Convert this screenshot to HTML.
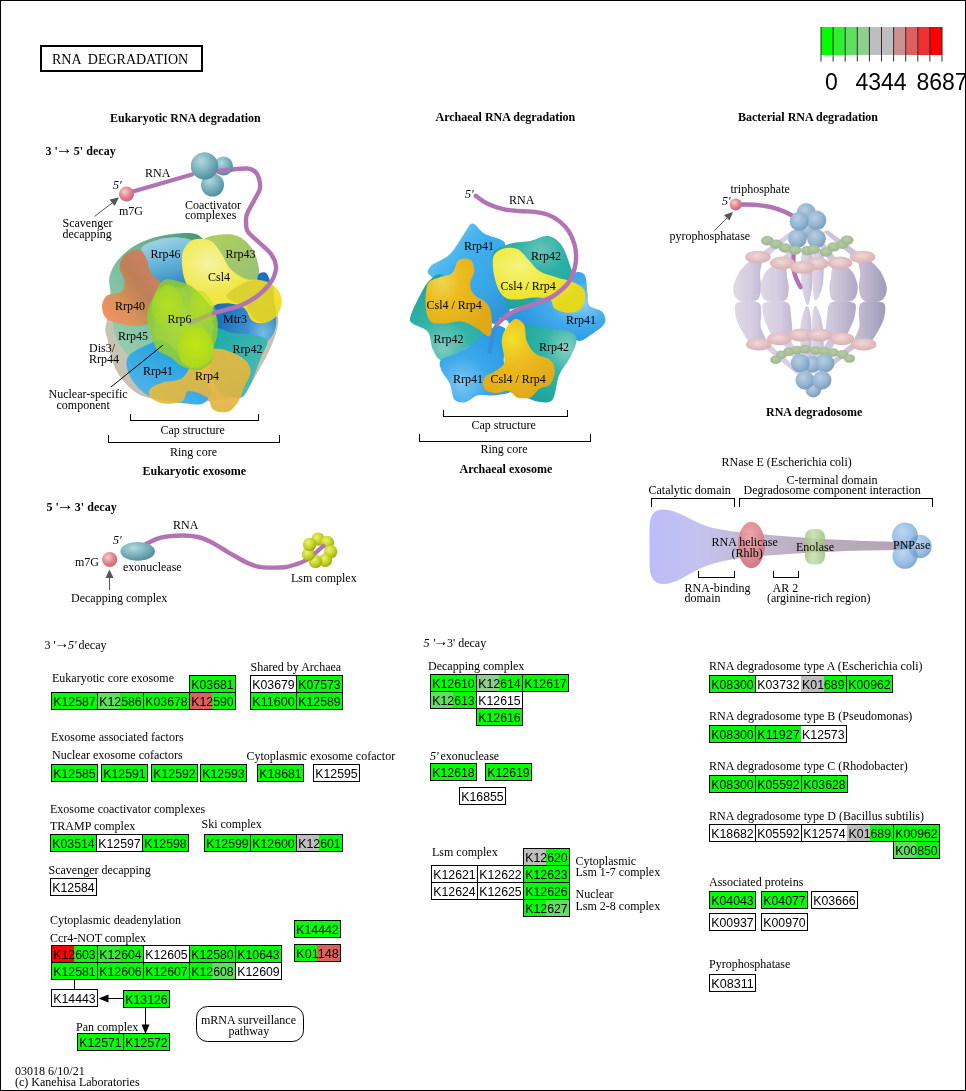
<!DOCTYPE html>
<html lang="en">
<head>
<meta charset="utf-8">
<title>RNA degradation</title>
<style>
html,body{margin:0;padding:0;background:#fff;}
body{width:966px;height:1091px;overflow:hidden;}
svg{display:block;}
text{font-family:"Liberation Serif",serif;font-size:12px;fill:#000;}
.b{font-weight:bold;}
.i{font-style:italic;}
.t{font-size:14px;}
.k{font-family:"Liberation Sans",sans-serif;font-size:13px;text-anchor:middle;}
.lg{font-family:"Liberation Sans",sans-serif;font-size:23px;}
.bx{fill:none;stroke:#000;stroke-width:1;shape-rendering:crispEdges;}
.ln{fill:none;stroke:#000;stroke-width:1;shape-rendering:crispEdges;}
.rna{fill:none;stroke:#b273b4;stroke-width:4.4;stroke-linecap:round;stroke-linejoin:round;}
</style>
</head>
<body>
<svg width="966" height="1091" viewBox="0 0 966 1091">
<defs>
<radialGradient id="gPink" cx="38%" cy="35%" r="70%"><stop offset="0" stop-color="#f6cfd0"/><stop offset=".55" stop-color="#e08890"/><stop offset="1" stop-color="#c8606c"/></radialGradient>
<radialGradient id="gTeal" cx="38%" cy="32%" r="72%"><stop offset="0" stop-color="#b4d8de"/><stop offset=".55" stop-color="#78b0bc"/><stop offset="1" stop-color="#4c8c9c"/></radialGradient>
<radialGradient id="gBlue" cx="40%" cy="35%" r="70%"><stop offset="0" stop-color="#b8cee2"/><stop offset=".6" stop-color="#94b4d0"/><stop offset="1" stop-color="#7698b8"/></radialGradient>
<radialGradient id="gPNP" cx="40%" cy="35%" r="70%"><stop offset="0" stop-color="#a4c8ec"/><stop offset=".6" stop-color="#78a8d8"/><stop offset="1" stop-color="#5484bc"/></radialGradient>
<radialGradient id="gYG" cx="38%" cy="35%" r="70%"><stop offset="0" stop-color="#eef270"/><stop offset=".55" stop-color="#c4d428"/><stop offset="1" stop-color="#98a810"/></radialGradient>
<radialGradient id="gPk2" cx="45%" cy="40%" r="65%"><stop offset="0" stop-color="#f0d8d8"/><stop offset="1" stop-color="#d8acb0"/></radialGradient>
<radialGradient id="gGb" cx="45%" cy="40%" r="65%"><stop offset="0" stop-color="#b8cca8"/><stop offset="1" stop-color="#9cb48e"/></radialGradient>
<linearGradient id="gLav" x1="0" x2="1" y1="0" y2="0"><stop offset="0" stop-color="#e0d8e6"/><stop offset=".6" stop-color="#d4cce0"/><stop offset="1" stop-color="#c0b8d0"/></linearGradient>
<linearGradient id="gLavM" x1="0" x2="1" y1="0" y2="0"><stop offset="0" stop-color="#d4cce0"/><stop offset=".5" stop-color="#c4bcd2"/><stop offset="1" stop-color="#b0a8c4"/></linearGradient>
<linearGradient id="gLavR" x1="0" x2="1" y1="0" y2="0"><stop offset="0" stop-color="#c8c0d6"/><stop offset=".5" stop-color="#b4aec8"/><stop offset="1" stop-color="#a09cb8"/></linearGradient>
<filter id="soft" x="-5%" y="-5%" width="110%" height="110%"><feGaussianBlur stdDeviation="0.7"/></filter>
<filter id="soft2" x="-5%" y="-5%" width="110%" height="110%"><feGaussianBlur stdDeviation="1.6"/></filter>
</defs>
<rect x="0" y="0" width="966" height="1091" fill="#fff"/>
<rect x="0.5" y="0.5" width="965" height="1090" class="bx"/>
<rect x="41" y="46" width="161" height="25" fill="#fff" stroke="#000" stroke-width="2" shape-rendering="crispEdges"/>
<text x="52" y="63.5" class="t" xml:space="preserve">RNA  DEGRADATION</text>
<rect x="821.0" y="27" width="12.2" height="28" fill="#00ff00"/>
<rect x="833.1" y="27" width="12.2" height="28" fill="#30ef30"/>
<rect x="845.2" y="27" width="12.2" height="28" fill="#5fdf5f"/>
<rect x="857.3" y="27" width="12.2" height="28" fill="#8fce8f"/>
<rect x="869.4" y="27" width="12.2" height="28" fill="#bebebe"/>
<rect x="881.5" y="27" width="12.2" height="28" fill="#bebebe"/>
<rect x="893.6" y="27" width="12.2" height="28" fill="#ce8f8f"/>
<rect x="905.7" y="27" width="12.2" height="28" fill="#df5f5f"/>
<rect x="917.8" y="27" width="12.2" height="28" fill="#ef3030"/>
<rect x="929.9" y="27" width="12.2" height="28" fill="#ff0000"/>
<rect x="820.5" y="27" width="1" height="34.5" fill="#2c2c2c"/>
<rect x="832.6" y="27" width="1" height="34.5" fill="#2c2c2c"/>
<rect x="844.7" y="27" width="1" height="34.5" fill="#2c2c2c"/>
<rect x="856.8" y="27" width="1" height="34.5" fill="#2c2c2c"/>
<rect x="868.9" y="27" width="1" height="34.5" fill="#2c2c2c"/>
<rect x="881.0" y="27" width="1" height="34.5" fill="#2c2c2c"/>
<rect x="893.1" y="27" width="1" height="34.5" fill="#2c2c2c"/>
<rect x="905.2" y="27" width="1" height="34.5" fill="#2c2c2c"/>
<rect x="917.3" y="27" width="1" height="34.5" fill="#2c2c2c"/>
<rect x="929.4" y="27" width="1" height="34.5" fill="#2c2c2c"/>
<rect x="941.5" y="27" width="1" height="34.5" fill="#2c2c2c"/>
<text x="825" y="90" class="lg">0</text>
<text x="855.5" y="90" class="lg">4344</text>
<text x="916.5" y="90" class="lg">8687</text>
<text x="110" y="121.5" class="b">Eukaryotic RNA degradation</text>
<text x="435.5" y="121" class="b">Archaeal RNA degradation</text>
<text x="738" y="121" class="b">Bacterial RNA degradation</text>
<text x="45.5" y="155" class="b">3 '</text>
<text x="55.8" y="154.3" class="b" style="font-size:17px">→</text>
<text x="73.7" y="155" class="b" textLength="42">5' decay</text>
<defs>
<radialGradient id="eGray" cx="50%" cy="50%" r="60%"><stop offset="0" stop-color="#d4d0c4"/><stop offset="1" stop-color="#c4c0b0"/></radialGradient>
<linearGradient id="eGrn" x1="0.9" x2="0.1" y1="0" y2="0.8"><stop offset="0" stop-color="#4c9874"/><stop offset=".35" stop-color="#68b090"/><stop offset="1" stop-color="#90ccac"/></linearGradient>
<linearGradient id="e46" x1="0.3" x2="0.6" y1="0" y2="1"><stop offset="0" stop-color="#a4d4e2"/><stop offset=".45" stop-color="#6cb8dc"/><stop offset="1" stop-color="#3088c0"/></linearGradient>
<linearGradient id="e40" x1="0.9" x2="0" y1="0.1" y2="0.9"><stop offset="0" stop-color="#d48060"/><stop offset=".4" stop-color="#bc8058"/><stop offset=".7" stop-color="#d89458"/><stop offset="1" stop-color="#f49068"/></linearGradient>
<linearGradient id="e43" x1="0" x2="1" y1="0" y2="1"><stop offset="0" stop-color="#b0d058"/><stop offset="1" stop-color="#98c078"/></linearGradient>
<radialGradient id="eMtr" cx="80%" cy="78%" r="70%"><stop offset="0" stop-color="#78bce4"/><stop offset=".35" stop-color="#3c90d0"/><stop offset="1" stop-color="#1c70bc"/></radialGradient>
<linearGradient id="e42" x1="0" x2="1" y1="0" y2="1"><stop offset="0" stop-color="#18a8a8"/><stop offset="1" stop-color="#58c0b8"/></linearGradient>
<radialGradient id="eCsl" cx="28%" cy="28%" r="80%"><stop offset="0" stop-color="#f6f4a0"/><stop offset=".45" stop-color="#f0e84c"/><stop offset="1" stop-color="#f0e030"/></radialGradient>
<linearGradient id="e41" x1="0.8" x2="0.1" y1="0" y2="1"><stop offset="0" stop-color="#189ce0"/><stop offset="1" stop-color="#58b8e8"/></linearGradient>
<linearGradient id="eR4" x1="0" x2="1" y1="0" y2="1"><stop offset="0" stop-color="#f0c038"/><stop offset="1" stop-color="#e0b040"/></linearGradient>
<radialGradient id="eR6" cx="50%" cy="50%" r="60%"><stop offset="0" stop-color="#a8dc28"/><stop offset="1" stop-color="#84c838"/></radialGradient>
<radialGradient id="eR6b" cx="50%" cy="45%" r="60%"><stop offset="0" stop-color="#c8e810"/><stop offset="1" stop-color="#a8d820"/></radialGradient>
</defs>
<g filter="url(#soft)">
<path d="M106.6,322.3C103.6,333.0 106.7,333.9 107.8,340.9C109.0,348.0 110.7,357.7 113.6,364.8C116.6,371.8 120.5,378.0 125.6,383.4C130.8,388.7 136.0,393.9 144.7,396.8C153.4,399.8 165.4,400.5 177.8,401.0C190.2,401.5 208.0,401.8 219.2,399.9C230.4,398.1 238.5,394.6 245.1,389.6C251.7,384.6 254.8,376.7 259.0,369.9C263.1,363.2 266.9,356.1 269.9,349.2C273.0,342.3 276.1,334.7 277.2,328.5C278.3,322.3 279.5,320.6 276.8,312.0C274.0,303.3 274.7,285.4 260.6,276.8C246.6,268.1 214.7,260.2 192.3,260.2C169.9,260.2 140.3,266.4 126.1,276.8C111.8,287.1 109.6,311.6 106.6,322.3Z" fill="url(#eGray)"/>
<path d="M110.5,293.3C110.0,285.7 108.3,282.3 109.5,276.8C110.7,271.2 113.3,265.5 117.8,260.2C122.3,254.8 128.8,248.8 136.4,244.7C144.0,240.5 153.3,237.1 163.3,235.4C173.3,233.6 189.9,231.6 196.4,234.3C203.0,237.1 208.5,243.1 202.7,251.9C196.8,260.7 169.2,275.0 161.3,287.1C153.3,299.2 156.4,314.0 155.0,324.4C153.7,334.7 156.8,343.7 153.0,349.2C149.2,354.7 138.1,358.9 132.3,357.5C126.4,356.1 121.1,346.8 117.8,340.9C114.5,335.1 113.8,330.2 112.6,322.3C111.4,314.4 111.0,300.9 110.5,293.3Z" fill="url(#eGrn)"/>
<path d="M141.6,247.8C143.4,244.4 151.1,241.6 157.1,239.9C163.2,238.2 171.8,237.1 177.8,237.4C183.9,237.7 191.6,238.8 193.3,241.6C195.1,244.3 189.5,249.5 188.2,254.0C186.8,258.5 185.2,263.3 185.1,268.5C184.9,273.7 189.0,281.9 187.1,285.0C185.2,288.1 178.3,287.6 173.7,287.1C169.0,286.6 163.0,284.4 159.2,281.9C155.4,279.5 153.0,276.2 150.9,272.6C148.8,269.0 147.9,264.3 146.3,260.2C144.8,256.1 139.8,251.2 141.6,247.8Z" fill="url(#e46)"/>
<path d="M119.4,266.4C119.7,262.0 122.7,256.8 126.1,254.0C129.4,251.2 136.0,248.4 139.5,249.4C143.0,250.5 145.3,256.3 147.2,260.2C149.0,264.1 148.4,269.1 150.5,272.6C152.6,276.1 157.3,278.7 159.6,281.3C161.9,283.9 165.3,285.5 164.4,288.1C163.4,290.8 156.7,293.5 154.0,297.5C151.3,301.4 149.0,307.8 148.4,312.0C147.8,316.1 152.5,320.0 150.5,322.3C148.5,324.7 141.5,325.8 136.4,326.0C131.3,326.2 124.8,324.8 119.8,323.6C114.8,322.3 109.4,321.5 106.4,318.6C103.4,315.7 101.9,310.0 102.0,306.2C102.1,302.3 103.8,297.8 107.0,295.4C110.3,293.0 118.6,294.2 121.5,291.7C124.4,289.2 124.7,284.7 124.4,280.5C124.1,276.3 119.2,270.8 119.4,266.4Z" fill="url(#e40)"/>
<path d="M204.7,238.5C206.9,236.4 217.5,234.6 223.4,234.3C229.2,234.1 235.0,234.4 239.9,237.0C244.8,239.6 249.7,244.9 252.8,249.8C255.9,254.7 257.8,261.5 258.6,266.4C259.4,271.3 259.9,276.9 257.5,279.2C255.1,281.6 248.7,281.8 244.1,280.5C239.4,279.2 233.7,275.5 229.6,271.6C225.4,267.7 222.5,261.2 219.2,257.1C216.0,253.0 212.5,249.8 210.1,246.7C207.7,243.6 202.5,240.5 204.7,238.5Z" fill="url(#e43)"/>
<path d="M212.0,308.9C213.8,303.5 222.2,302.5 227.5,301.2C232.9,299.9 239.4,303.5 244.1,301.2C248.7,298.8 253.0,291.6 255.5,287.1C257.9,282.6 256.7,276.5 258.6,274.3C260.5,272.0 264.7,271.5 266.8,273.7C269.0,275.8 269.9,281.4 271.4,287.1C272.8,292.8 274.8,300.9 275.5,307.8C276.2,314.7 276.9,322.9 275.5,328.5C274.2,334.1 271.1,337.8 267.3,341.4C263.4,344.9 258.3,349.6 252.3,349.6C246.4,349.6 237.6,344.1 231.6,341.4C225.7,338.6 220.0,338.5 216.7,333.1C213.5,327.7 210.2,314.2 212.0,308.9Z" fill="url(#eMtr)"/>
<path d="M214.0,328.5C217.3,325.8 225.3,331.6 231.6,332.7C238.0,333.7 246.4,333.4 252.3,334.7C258.3,336.1 265.8,337.1 267.3,340.9C268.7,344.7 263.1,352.0 261.0,357.5C259.0,363.0 256.9,368.9 254.8,374.1C252.8,379.2 251.1,384.6 248.6,388.6C246.1,392.5 244.8,397.4 239.9,397.9C235.0,398.4 224.2,396.3 219.2,391.7C214.3,387.0 211.3,377.0 210.1,369.9C208.9,362.9 211.5,356.1 212.2,349.2C212.8,342.3 210.8,331.3 214.0,328.5Z" fill="url(#e42)"/>
<path d="M183.6,249.8C185.6,245.7 189.4,240.9 194.0,239.5C198.5,238.0 206.3,238.7 210.9,241.1C215.6,243.6 218.5,249.4 221.7,254.0C224.9,258.5 226.2,264.4 230.0,268.5C233.8,272.6 239.3,276.4 244.5,278.4C249.7,280.4 255.9,279.0 261.0,280.5C266.2,281.9 272.1,283.9 275.5,287.1C279.0,290.3 281.4,295.0 281.7,299.5C282.1,304.1 280.4,310.6 277.6,314.4C274.8,318.3 269.4,321.7 265.2,322.7C261.0,323.8 255.8,323.1 252.3,320.7C248.9,318.2 247.9,311.1 244.5,308.2C241.0,305.4 235.9,304.4 231.6,303.7C227.4,302.9 223.4,303.3 219.2,303.7C215.1,304.1 210.9,307.2 206.8,306.2C202.7,305.1 198.0,301.6 194.4,297.5C190.8,293.3 187.3,286.8 185.3,281.3C183.2,275.8 182.2,269.6 182.0,264.3C181.7,259.1 181.6,254.0 183.6,249.8Z" fill="url(#eCsl)"/>
<path d="M226.4,296.3C226.4,293.9 231.2,290.4 234.7,288.0C238.1,285.6 243.3,283.2 247.1,281.8C250.9,280.4 254.1,279.7 257.5,279.7C260.9,279.7 265.2,280.8 267.8,281.8C270.4,282.8 271.9,282.4 273.0,285.9C274.1,289.3 274.0,297.7 274.5,302.5C275.0,307.3 277.2,311.6 276.1,314.9C275.0,318.2 270.9,321.1 267.8,322.1C264.7,323.1 260.6,322.7 257.5,321.1C254.4,319.6 251.3,315.4 249.2,312.8C247.1,310.2 247.4,307.3 245.0,305.6C242.6,303.9 237.8,304.1 234.7,302.5C231.6,300.9 226.4,298.7 226.4,296.3Z" fill="#d0c828" opacity=".65"/>
<path d="M127.7,357.5C130.5,352.3 140.8,347.9 146.8,345.1C152.8,342.3 157.8,338.5 163.7,340.5C169.7,342.6 177.2,352.6 182.4,357.5C187.5,362.4 190.0,364.4 194.8,369.9C199.6,375.4 210.0,385.0 211.4,390.6C212.7,396.2 207.3,401.3 203.1,403.5C198.9,405.6 193.0,404.1 186.1,403.5C179.2,402.9 168.7,401.7 161.7,399.9C154.6,398.2 149.2,396.7 143.9,392.7C138.5,388.7 132.5,382.0 129.8,376.1C127.1,370.3 124.9,362.7 127.7,357.5Z" fill="url(#e41)"/>
<path d="M150.5,388.6C152.6,386.1 158.1,384.1 163.3,382.3C168.6,380.6 176.8,381.6 182.0,378.2C187.1,374.8 189.1,366.9 194.0,362.1C198.8,357.2 205.3,351.1 210.9,349.2C216.6,347.4 222.3,349.2 227.9,350.9C233.5,352.6 240.7,356.1 244.5,359.6C248.3,363.1 250.7,367.5 250.7,372.0C250.7,376.5 246.6,381.6 244.5,386.5C242.4,391.4 241.0,397.2 238.3,401.4C235.5,405.6 232.1,410.4 227.9,411.7C223.8,413.1 216.9,412.1 213.4,409.7C209.9,407.3 210.9,400.4 206.8,397.3C202.7,394.2 192.7,390.4 188.6,391.0C184.4,391.7 186.2,399.3 182.0,401.4C177.7,403.5 168.6,404.2 163.3,403.5C158.1,402.8 152.6,399.7 150.5,397.3C148.3,394.8 148.3,391.0 150.5,388.6Z" fill="url(#eR4)" opacity=".9"/>
<path d="M163.3,280.5C167.5,277.8 173.4,280.2 178.2,281.3C183.1,282.4 187.5,283.7 192.3,287.1C197.1,290.5 202.8,296.8 206.8,301.6C210.8,306.4 214.5,310.9 216.3,316.1C218.1,321.3 218.1,327.1 217.6,332.7C217.1,338.2 214.5,344.3 213.4,349.2C212.3,354.1 213.4,358.5 210.9,362.1C208.5,365.6 203.4,369.7 198.5,370.3C193.7,371.0 186.4,368.3 182.0,366.2C177.5,364.1 175.7,360.7 171.6,357.9C167.5,355.2 160.6,353.8 157.1,349.6C153.7,345.4 152.6,338.3 150.9,332.7C149.2,327.1 146.4,322.0 146.8,316.1C147.1,310.2 150.2,303.4 153.0,297.5C155.7,291.5 159.1,283.2 163.3,280.5Z" fill="url(#eR6)" opacity=".88"/>
<path d="M177.8,345.1C178.2,339.8 180.6,333.7 184.0,330.6C187.5,327.5 194.3,325.8 198.5,326.4C202.7,327.1 206.8,330.9 209.3,334.7C211.8,338.5 213.5,344.7 213.4,349.2C213.4,353.8 212.0,358.9 208.9,362.1C205.7,365.2 198.9,368.3 194.4,368.3C189.9,368.3 184.7,365.9 182.0,362.1C179.2,358.2 177.5,350.3 177.8,345.1Z" fill="url(#eR6b)" opacity=".9"/>
<path d="M192.3,293.3C194.3,290.9 199.2,289.5 202.7,291.3C206.1,293.0 210.8,299.5 213.0,303.7C215.3,307.8 217.2,313.0 216.1,316.1C215.1,319.2 210.4,322.0 206.8,322.3C203.2,322.7 197.1,320.9 194.4,318.2C191.7,315.4 191.0,309.9 190.7,305.7C190.3,301.6 190.3,295.7 192.3,293.3Z" fill="url(#eR6b)" opacity=".5"/>
<path d="M151.9,307.8C151.6,302.3 154.2,295.0 157.1,291.3C160.0,287.5 165.7,284.7 169.5,285.0C173.3,285.4 177.8,289.5 179.9,293.3C182.0,297.1 183.0,303.0 182.0,307.8C180.9,312.6 177.5,319.5 173.7,322.3C169.9,325.1 162.8,326.8 159.2,324.4C155.6,322.0 152.3,313.3 151.9,307.8Z" fill="url(#eR6b)" opacity=".55"/>
</g>
<path d="M133,191.5L192,174.5" class="rna"/>
<path d="M218.0,171.5C220.0,171.2 225.1,170.2 230.0,169.7C234.9,169.2 243.3,168.2 247.5,168.5C251.7,168.8 253.1,169.8 255.0,171.5C256.9,173.2 258.2,175.7 259.0,178.5C259.8,181.3 260.5,185.4 260.0,188.5C259.5,191.6 257.5,194.1 256.0,197.0C254.5,199.9 252.5,203.2 251.0,206.0C249.5,208.8 247.8,211.7 247.0,214.0C246.2,216.3 245.9,217.2 246.0,220.0C246.1,222.8 245.6,227.5 247.5,231.0C249.4,234.5 253.6,237.2 257.5,241.0C261.4,244.8 267.9,249.8 271.0,254.0C274.1,258.2 275.5,262.2 276.0,266.0C276.5,269.8 275.3,273.2 274.0,276.5C272.7,279.8 270.8,282.8 268.0,286.0C265.2,289.2 261.7,292.9 257.5,296.0C253.3,299.1 248.2,302.2 243.0,304.5C237.8,306.8 231.3,308.3 226.5,309.7C221.7,311.1 216.1,312.4 214.0,313.0" class="rna"/>
<path d="M214,313L190,323" class="rna" opacity=".35"/>
<circle cx="223.5" cy="166.0" r="9.5" fill="url(#gTeal)"/>
<circle cx="212.5" cy="185.0" r="11.5" fill="url(#gTeal)"/>
<circle cx="204.5" cy="166.0" r="13.5" fill="url(#gTeal)"/>
<path d="M205,172C212,171 220,171 228,170" class="rna"/>
<circle cx="204.5" cy="166.0" r="13.5" fill="url(#gTeal)"/>
<circle cx="126.5" cy="194.0" r="7.5" fill="url(#gPink)"/>
<path d="M94.5,216.5L114,201.5" stroke="#555" stroke-width="1" fill="none"/>
<path d="M119,197.5L114.5,206L109.5,199.5Z" fill="#555"/>
<text x="145" y="177" class="s">RNA</text>
<text x="113" y="189" class="i">5'</text>
<text x="119" y="215" class="s">m7G</text>
<text x="185" y="208.5" class="s">Coactivator</text>
<text x="185" y="219" class="s">complexes</text>
<text x="62.5" y="227" class="s">Scavenger</text>
<text x="62.5" y="238" class="s">decapping</text>
<text x="150.5" y="258" class="s">Rrp46</text>
<text x="225.5" y="258" class="s">Rrp43</text>
<text x="208" y="280.5" class="s">Csl4</text>
<text x="115" y="310" class="s">Rrp40</text>
<text x="167.5" y="323" class="s">Rrp6</text>
<text x="223" y="323" class="s">Mtr3</text>
<text x="118" y="340" class="s">Rrp45</text>
<text x="89" y="351.5" class="s">Dis3/</text>
<text x="89" y="362.5" class="s">Rrp44</text>
<text x="232.5" y="353" class="s">Rrp42</text>
<text x="143" y="374.5" class="s">Rrp41</text>
<text x="195" y="380" class="s">Rrp4</text>
<text x="48.5" y="397.5" class="s">Nuclear-specific</text>
<text x="56.5" y="408.5" class="s">component</text>
<path d="M111,387L163,345" stroke="#000" stroke-width="1" fill="none"/>
<path d="M130.5,414V420.5H258.5V414" class="ln"/>
<text x="160.5" y="433.5" class="s">Cap structure</text>
<path d="M108.5,435V442.5H279.5V435" class="ln"/>
<text x="170" y="455.5" class="s">Ring core</text>
<text x="142.5" y="475" class="b">Eukaryotic exosome</text>
<defs>
<linearGradient id="aBl" x1="0.1" x2="0.95" y1="0.05" y2="0.95"><stop offset="0" stop-color="#7cccf4"/><stop offset=".35" stop-color="#40b0ee"/><stop offset=".7" stop-color="#38a4e6"/><stop offset="1" stop-color="#2c90d4"/></linearGradient>
<radialGradient id="aBl2" cx="75%" cy="45%" r="60%"><stop offset="0" stop-color="#90d0f4"/><stop offset=".5" stop-color="#44acec"/><stop offset="1" stop-color="#2c98e0"/></radialGradient>
<radialGradient id="aBl3" cx="30%" cy="75%" r="70%"><stop offset="0" stop-color="#7cc8f0"/><stop offset=".5" stop-color="#3ca8ec"/><stop offset="1" stop-color="#2c9ce4"/></radialGradient>
<radialGradient id="aTe" cx="60%" cy="20%" r="80%"><stop offset="0" stop-color="#68c4b8"/><stop offset=".4" stop-color="#2cb0a4"/><stop offset="1" stop-color="#20a49c"/></radialGradient>
<radialGradient id="aTe2" cx="40%" cy="85%" r="80%"><stop offset="0" stop-color="#80ccc0"/><stop offset=".4" stop-color="#34b4a8"/><stop offset="1" stop-color="#1ca49c"/></radialGradient>
<radialGradient id="aTe3" cx="85%" cy="30%" r="80%"><stop offset="0" stop-color="#88d0c4"/><stop offset=".4" stop-color="#34b4a8"/><stop offset="1" stop-color="#1ca49c"/></radialGradient>
<radialGradient id="aYe" cx="28%" cy="28%" r="75%"><stop offset="0" stop-color="#f4f47c"/><stop offset=".5" stop-color="#f0e83c"/><stop offset="1" stop-color="#e4d81c"/></radialGradient>
<radialGradient id="aOr" cx="25%" cy="30%" r="80%"><stop offset="0" stop-color="#f0d450"/><stop offset=".35" stop-color="#ecbc20"/><stop offset="1" stop-color="#e0a818"/></radialGradient>
<radialGradient id="aOr2" cx="40%" cy="25%" r="80%"><stop offset="0" stop-color="#f4e02c"/><stop offset=".4" stop-color="#ecbc20"/><stop offset="1" stop-color="#e0a818"/></radialGradient>
</defs>
<g filter="url(#soft)">
<path d="M430.0,267.0C432.8,263.1 443.8,260.1 449.6,254.6C455.3,249.0 460.5,238.7 464.3,233.5C468.2,228.3 469.3,223.5 472.6,223.5C475.9,223.5 479.0,230.3 484.3,233.5C489.7,236.7 502.6,238.5 504.8,242.6C507.0,246.7 498.4,251.7 497.4,258.3C496.4,264.8 496.8,273.7 498.9,281.7C501.0,289.8 508.9,300.4 509.8,306.7C510.6,313.1 507.0,317.1 503.9,319.8C500.8,322.5 496.7,325.9 491.3,323.0C485.9,320.1 481.5,309.9 471.7,302.4C462.0,294.9 439.6,283.7 432.6,277.8C425.7,271.9 427.2,270.8 430.0,267.0Z" fill="url(#aBl)"/>
<path d="M539.1,297.0C544.9,293.3 550.7,288.0 556.5,283.9C562.3,279.9 569.2,274.1 573.9,272.6C578.6,271.2 582.5,271.9 584.8,275.2C587.0,278.6 586.6,287.5 587.4,292.6C588.2,297.7 587.1,302.5 589.6,305.7C592.0,308.8 599.6,308.8 602.2,311.7C604.7,314.6 606.5,319.3 604.8,323.0C603.0,326.8 596.1,331.4 591.7,334.3C587.4,337.3 583.1,341.2 578.7,340.9C574.3,340.5 573.3,334.2 565.2,332.2C557.2,330.1 539.1,329.6 530.4,328.5C521.7,327.3 517.5,327.2 513.0,325.2C508.6,323.2 502.5,319.8 503.9,316.5C505.4,313.3 515.9,308.9 521.7,305.7C527.6,302.4 533.3,300.6 539.1,297.0Z" fill="url(#aBl2)"/>
<path d="M495.7,249.6C499.1,246.7 507.2,244.5 513.0,243.0C518.8,241.6 524.6,242.0 530.4,240.9C536.2,239.7 542.7,235.4 547.8,236.1C553.0,236.7 557.7,240.1 561.3,244.8C564.9,249.5 567.8,258.8 569.6,264.3C571.4,269.9 574.3,274.5 572.2,277.8C570.1,281.2 562.5,281.1 557.0,284.3C551.4,287.6 545.0,293.8 539.1,297.4C533.3,301.0 526.8,304.3 521.7,306.1C516.7,307.9 512.0,310.5 508.7,308.3C505.4,306.0 504.3,298.1 502.2,292.6C500.0,287.1 497.3,280.7 495.7,275.2C494.0,269.8 492.2,264.3 492.2,260.0C492.2,255.7 492.2,252.4 495.7,249.6Z" fill="url(#aTe)"/>
<path d="M493.0,258.3C494.1,252.8 498.1,250.7 502.2,249.1C506.2,247.6 513.0,247.3 517.4,249.1C521.8,250.9 525.0,256.3 528.7,260.0C532.4,263.7 534.9,268.4 539.6,271.3C544.3,274.2 551.5,275.7 557.0,277.4C562.4,279.1 567.8,279.9 572.2,281.7C576.5,283.6 580.9,285.3 583.0,288.3C585.2,291.2 585.9,295.9 585.2,299.6C584.5,303.3 582.0,308.3 578.7,310.4C575.4,312.6 569.3,313.0 565.2,312.6C561.2,312.2 556.9,310.4 554.3,308.3C551.8,306.1 553.3,301.4 550.0,299.6C546.7,297.8 540.2,297.4 534.8,297.4C529.3,297.4 522.5,299.6 517.4,299.6C512.3,299.5 508.0,299.9 504.3,297.0C500.7,294.0 497.5,288.2 495.7,281.7C493.8,275.3 492.0,263.7 493.0,258.3Z" fill="url(#aYe)"/>
<path d="M410.4,316.5C411.5,312.1 415.9,303.0 419.1,297.0C422.4,290.9 425.9,283.6 430.0,280.0C434.1,276.4 437.6,272.4 443.5,275.2C449.3,278.0 458.0,289.7 465.2,297.0C472.5,304.2 482.4,312.2 487.0,318.7C491.5,325.2 494.9,331.7 492.4,336.1C489.9,340.5 477.7,342.2 471.7,345.2C465.8,348.2 461.6,351.4 456.5,353.9C451.4,356.4 445.3,361.2 441.3,360.4C437.3,359.6 434.9,353.9 432.6,349.1C430.4,344.3 431.2,336.0 427.8,331.7C424.5,327.5 415.5,326.0 412.6,323.5C409.7,320.9 409.3,320.9 410.4,316.5Z" fill="url(#aTe2)"/>
<path d="M440.9,360.0C443.3,357.1 451.4,356.0 456.5,353.5C461.7,350.9 465.9,348.9 471.7,344.8C477.5,340.6 485.9,331.6 491.3,328.5C496.7,325.4 501.4,323.6 503.9,326.3C506.4,329.0 506.5,338.8 506.5,344.8C506.5,350.8 502.8,354.9 503.9,362.2C505.0,369.5 514.4,383.2 513.0,388.7C511.7,394.2 501.4,394.1 495.7,395.2C489.9,396.3 483.3,394.1 478.3,395.2C473.2,396.4 469.2,401.4 465.2,402.2C461.2,402.9 456.9,402.6 454.3,399.6C451.8,396.5 452.1,388.7 450.0,383.9C447.9,379.1 443.3,374.9 441.7,370.9C440.2,366.9 438.4,362.9 440.9,360.0Z" fill="url(#aBl3)"/>
<path d="M521.7,327.4C526.8,321.9 544.1,328.4 552.2,329.1C560.2,329.9 565.9,329.9 570.0,331.7C574.1,333.6 576.5,336.1 576.5,340.4C576.5,344.8 572.9,352.0 570.0,357.8C567.1,363.6 562.0,368.3 559.1,375.2C556.2,382.2 555.9,395.1 552.6,399.6C549.3,404.0 543.6,402.1 539.1,401.7C534.7,401.4 531.2,399.6 526.1,397.4C521.0,395.2 509.4,394.6 508.7,388.7C508.0,382.8 519.6,372.4 521.7,362.2C523.9,352.0 516.7,332.9 521.7,327.4Z" fill="url(#aTe3)"/>
<path d="M427.8,283.9C430.1,279.2 435.1,279.2 439.1,277.4C443.2,275.6 449.0,275.9 452.2,273.0C455.4,270.2 455.3,262.7 458.3,260.4C461.2,258.2 467.3,257.8 470.0,259.6C472.7,261.3 474.3,266.8 474.3,270.9C474.3,274.9 470.0,279.9 470.0,283.9C470.0,287.9 471.4,291.4 474.3,294.8C477.2,298.1 484.5,299.9 487.4,303.9C490.3,307.9 491.4,313.3 491.7,318.7C492.1,324.1 492.2,334.6 489.6,336.1C487.0,337.6 480.9,330.3 476.1,327.8C471.3,325.4 466.3,322.0 460.9,321.3C455.4,320.6 448.6,323.5 443.5,323.5C438.4,323.5 433.4,324.3 430.4,321.3C427.5,318.3 426.1,311.9 425.7,305.7C425.2,299.4 425.6,288.6 427.8,283.9Z" fill="url(#aOr)"/>
<path d="M501.7,340.4C502.1,334.6 504.2,330.9 506.5,327.4C508.8,323.8 512.7,319.5 515.7,319.1C518.6,318.8 522.5,321.7 524.3,325.2C526.2,328.8 524.7,335.7 526.5,340.4C528.3,345.1 531.2,350.2 535.2,353.5C539.2,356.7 547.2,357.1 550.4,360.0C553.7,362.9 554.8,366.9 554.8,370.9C554.8,374.9 553.0,380.9 550.4,383.9C547.9,386.9 542.9,386.4 539.6,388.7C536.2,390.9 534.1,395.9 530.4,397.4C526.7,398.8 521.0,398.5 517.4,397.4C513.8,396.3 512.3,391.6 508.7,390.9C505.1,390.1 499.7,393.4 495.7,393.0C491.6,392.7 486.2,391.3 484.3,388.7C482.5,386.1 482.5,380.4 484.3,377.4C486.2,374.4 492.3,373.4 495.7,370.9C499.0,368.3 503.3,367.2 504.3,362.2C505.4,357.1 501.4,346.2 501.7,340.4Z" fill="url(#aOr2)"/>
</g>
<path d="M499.5,318L508.5,321L505,328L498,325Z" fill="#fff" opacity=".95" filter="url(#soft)"/>
<path d="M497.5,323.5C497.0,324.6 495.3,327.9 494.5,330.0C493.7,332.1 493.3,333.7 492.7,336.0C492.1,338.3 491.3,341.1 490.8,344.0C490.3,346.9 489.7,351.9 489.5,353.5" fill="none" stroke="#3490d8" stroke-width="4.2" stroke-linecap="butt"/>
<path d="M475.8,195.9C477.7,197.2 482.6,201.2 487.1,203.4C491.7,205.6 497.8,207.8 503.1,209.1C508.4,210.4 513.8,210.5 519.1,211.0C524.5,211.5 530.4,211.3 535.2,211.9C540.0,212.5 544.0,213.2 548.0,214.7C552.0,216.2 555.7,218.3 559.2,221.1C562.7,223.9 566.4,227.6 568.9,231.5C571.4,235.4 573.3,240.3 574.5,244.3C575.7,248.3 576.0,251.8 576.1,255.6C576.2,259.4 575.9,262.8 575.0,266.8C574.1,270.8 572.6,275.9 570.5,279.6C568.4,283.3 565.6,286.2 562.4,289.2C559.2,292.1 555.7,294.9 551.2,297.3C546.7,299.7 540.6,301.7 535.2,303.7C529.9,305.7 523.7,307.4 519.1,309.3C514.5,311.2 511.6,312.4 507.9,314.9C504.2,317.4 498.8,322.6 497.0,324.2" class="rna" stroke-linecap="butt"/>
<text x="465" y="197.5" class="i">5'</text>
<text x="509" y="203.5" class="s">RNA</text>
<text x="464" y="250" class="s">Rrp41</text>
<text x="531" y="260" class="s">Rrp42</text>
<text x="500.5" y="290" class="s">Csl4 / Rrp4</text>
<text x="426.5" y="309" class="s">Csl4 / Rrp4</text>
<text x="566" y="324" class="s">Rrp41</text>
<text x="433.5" y="343" class="s">Rrp42</text>
<text x="539" y="351" class="s">Rrp42</text>
<text x="453" y="382.5" class="s">Rrp41</text>
<text x="490.5" y="382.5" class="s">Csl4 / Rrp4</text>
<path d="M443.5,410V416.5H567.5V410" class="ln"/>
<text x="471.5" y="428.5" class="s">Cap structure</text>
<path d="M419.5,434V441.5H590.5V434" class="ln"/>
<text x="480.5" y="452.5" class="s">Ring core</text>
<text x="459.5" y="473" class="b">Archaeal exosome</text>
<g filter="url(#soft)">
<path d="M792.3,230.3L796.8,231.8L762.6,260.8L750.4,260.8Z" fill="#d8d0e2"/>
<path d="M799.8,235.4L803.9,237.1L783.6,270.2L772.9,270.2Z" fill="#d8d0e2"/>
<path d="M755.1,339.7L764.8,339.7L800.6,371.7L796.4,373.9Z" fill="#d8d0e2"/>
<path d="M776.7,335.0L787.4,335.0L807.7,369.8L803.6,371.7Z" fill="#d8d0e2"/>
<path d="M818.4,235.4L814.3,237.1L834.6,270.2L845.3,270.2Z" fill="#d0c8dc"/>
<path d="M841.5,335.0L830.8,335.0L810.5,369.8L814.7,371.7Z" fill="#d0c8dc"/>
<path d="M827.8,230.3L823.3,231.8L857.5,260.8L869.7,260.8Z" fill="#ccc4d8"/>
<path d="M865.0,339.7L855.3,339.7L819.5,371.7L823.7,373.9Z" fill="#ccc4d8"/>
<path d="M802.1,251.4C803.8,246.7 809.7,246.7 811.5,251.4C813.2,256.1 812.8,271.6 812.6,279.6C812.3,287.6 810.8,295.1 810.0,299.3C809.1,303.6 808.3,305.4 807.3,305.0C806.3,304.5 805.0,300.7 803.9,296.5C802.9,292.3 801.3,287.1 800.9,279.6C800.6,272.1 800.3,256.1 802.1,251.4Z" fill="url(#gLav)"/>
<path d="M813.3,251.4C815.0,248.3 821.1,246.7 822.7,251.4C824.4,256.1 823.8,272.4 823.3,279.6C822.8,286.8 821.3,291.2 819.9,294.6C818.5,298.1 816.0,301.2 814.8,300.3C813.7,299.3 813.3,294.0 813.0,289.0C812.6,284.0 812.5,276.5 812.6,270.2C812.7,263.9 811.7,254.5 813.3,251.4Z" fill="url(#gLav)"/>
<path d="M800.2,334.1C800.2,327.2 800.9,321.9 802.1,317.2C803.2,312.5 805.5,305.9 807.0,305.9C808.4,305.9 810.0,310.6 810.7,317.2C811.5,323.8 811.4,338.5 811.5,345.4C811.5,352.3 812.7,356.3 811.1,358.5C809.5,360.7 803.9,362.6 802.1,358.5C800.3,354.5 800.2,341.0 800.2,334.1Z" fill="url(#gLav)"/>
<path d="M812.2,358.5C810.5,351.6 811.7,326.0 812.2,317.2C812.8,308.4 814.2,305.9 815.6,305.9C817.0,305.9 819.6,312.5 820.9,317.2C822.1,321.9 823.0,327.2 823.3,334.1C823.6,341.0 824.6,354.5 822.7,358.5C820.9,362.6 814.0,365.4 812.2,358.5Z" fill="url(#gLav)"/>
<path d="M793.6,254.8C792.6,268.8 793.6,275.1 800.6,287.1" class="rna" stroke-width="3.2" stroke-linecap="butt"/>
<path d="M753.2,258.9C755.9,258.1 760.5,257.3 761.7,259.8C762.8,262.4 760.1,269.1 760.0,273.9C759.9,278.8 761.7,284.5 761.1,289.0C760.5,293.4 759.9,298.7 756.2,300.6C752.5,302.6 742.7,302.6 738.9,300.6C735.1,298.7 733.4,293.4 733.3,289.0C733.1,284.5 736.1,278.0 738.2,273.9C740.2,269.9 743.2,267.1 745.7,264.5C748.2,262.0 750.5,259.7 753.2,258.9Z" fill="url(#gLav)"/>
<path d="M735.9,303.6C737.8,301.0 743.7,301.5 747.6,301.4C751.4,301.3 756.9,301.3 759.2,303.3C761.5,305.3 761.0,309.5 761.3,313.4C761.5,317.3 760.0,321.8 760.7,326.6C761.4,331.3 767.2,339.2 765.6,342.0C764.0,344.7 755.3,345.0 751.3,343.1C747.4,341.2 744.5,335.0 741.9,330.7C739.3,326.4 736.9,321.7 735.9,317.2C734.9,312.7 734.0,306.3 735.9,303.6Z" fill="url(#gLav)"/>
<path d="M775.8,265.5C778.4,265.2 783.2,264.4 785.2,266.4C787.1,268.5 786.6,273.9 787.2,277.7C787.8,281.5 789.1,285.2 788.7,289.0C788.3,292.8 788.6,298.7 784.8,300.6C781.0,302.6 770.0,302.6 766.0,300.6C761.9,298.7 760.9,293.1 760.5,289.0C760.1,284.8 762.1,279.3 763.5,275.8C765.0,272.4 767.1,270.0 769.2,268.3C771.2,266.6 773.1,265.8 775.8,265.5Z" fill="url(#gLav)"/>
<path d="M763.3,303.6C765.4,301.3 771.6,301.5 775.8,301.4C779.9,301.3 785.6,301.0 788.2,303.3C790.7,305.6 790.5,309.8 791.0,315.3C791.4,320.8 793.8,332.8 791.0,336.4C788.1,339.9 777.8,338.0 773.9,336.4C769.9,334.7 769.0,330.1 767.3,326.6C765.5,323.1 764.0,319.1 763.3,315.3C762.7,311.5 761.3,306.0 763.3,303.6Z" fill="url(#gLav)"/>
<path d="M842.5,265.5C839.8,265.2 835.0,264.4 833.1,266.4C831.2,268.5 831.6,273.9 831.0,277.7C830.4,281.5 829.1,285.2 829.5,289.0C829.9,292.8 829.7,298.7 833.5,300.6C837.2,302.6 848.2,302.6 852.3,300.6C856.3,298.7 857.3,293.1 857.7,289.0C858.1,284.8 856.1,279.3 854.7,275.8C853.3,272.4 851.1,270.0 849.1,268.3C847.0,266.6 845.1,265.8 842.5,265.5Z" fill="url(#gLavM)"/>
<path d="M854.9,303.6C852.8,301.3 846.6,301.5 842.5,301.4C838.3,301.3 832.6,301.0 830.1,303.3C827.5,305.6 827.7,309.8 827.3,315.3C826.8,320.8 824.4,332.8 827.3,336.4C830.1,339.9 840.4,338.0 844.4,336.4C848.3,334.7 849.2,330.1 850.9,326.6C852.7,323.1 854.2,319.1 854.9,315.3C855.5,311.5 857.0,306.0 854.9,303.6Z" fill="url(#gLavM)"/>
<path d="M866.9,258.9C864.3,258.1 859.6,257.3 858.5,259.8C857.3,262.4 860.1,269.1 860.2,273.9C860.2,278.8 858.4,284.5 859.0,289.0C859.6,293.4 860.2,298.7 863.9,300.6C867.6,302.6 877.4,302.6 881.2,300.6C885.0,298.7 886.7,293.4 886.8,289.0C887.0,284.5 884.0,278.0 882.0,273.9C879.9,269.9 876.9,267.1 874.4,264.5C871.9,262.0 869.6,259.7 866.9,258.9Z" fill="url(#gLavR)"/>
<path d="M884.2,303.6C882.3,301.0 876.4,301.5 872.6,301.4C868.7,301.3 863.2,301.3 860.9,303.3C858.6,305.3 859.1,309.5 858.8,313.4C858.6,317.3 860.1,321.8 859.4,326.6C858.7,331.3 852.9,339.2 854.5,342.0C856.1,344.7 864.8,345.0 868.8,343.1C872.7,341.2 875.6,335.0 878.2,330.7C880.8,326.4 883.2,321.7 884.2,317.2C885.2,312.7 886.2,306.3 884.2,303.6Z" fill="url(#gLavR)"/>
</g>
<g filter="url(#soft)">
<circle cx="807.7" cy="229.8" r="8.3" fill="url(#gBlue)"/>
<circle cx="806.2" cy="212.3" r="9.4" fill="url(#gBlue)"/>
<circle cx="799.2" cy="221.3" r="9.4" fill="url(#gBlue)"/>
<circle cx="816.5" cy="220.4" r="9.8" fill="url(#gBlue)"/>
<circle cx="797.4" cy="238.6" r="9.4" fill="url(#gBlue)"/>
<circle cx="816.5" cy="238.6" r="9.4" fill="url(#gBlue)"/>
<ellipse cx="767.3" cy="240.7" rx="6.4" ry="4.7" fill="url(#gGb)"/>
<ellipse cx="776.1" cy="244.2" rx="6.4" ry="4.7" fill="url(#gGb)"/>
<ellipse cx="785.2" cy="248.0" rx="6.4" ry="4.7" fill="url(#gGb)"/>
<ellipse cx="794.9" cy="250.1" rx="6.4" ry="4.7" fill="url(#gGb)"/>
<ellipse cx="807.3" cy="250.6" rx="6.4" ry="4.7" fill="url(#gGb)"/>
<ellipse cx="813.7" cy="249.5" rx="6.4" ry="4.7" fill="url(#gGb)"/>
<ellipse cx="826.1" cy="252.1" rx="6.4" ry="4.7" fill="url(#gGb)"/>
<ellipse cx="833.6" cy="246.9" rx="6.4" ry="4.7" fill="url(#gGb)"/>
<ellipse cx="842.5" cy="244.2" rx="6.4" ry="4.7" fill="url(#gGb)"/>
<ellipse cx="847.2" cy="240.1" rx="6.4" ry="4.7" fill="url(#gGb)"/>
<ellipse cx="757.9" cy="257.0" rx="12.8" ry="6.2" fill="url(#gPk2)"/>
<ellipse cx="862.6" cy="257.0" rx="12.8" ry="6.2" fill="url(#gPk2)"/>
<ellipse cx="782.3" cy="263.0" rx="12.4" ry="6.4" fill="url(#gPk2)"/>
<ellipse cx="840.0" cy="263.0" rx="12.4" ry="6.4" fill="url(#gPk2)"/>
<ellipse cx="817.5" cy="263.6" rx="11.3" ry="6.2" fill="url(#gPk2)"/>
<ellipse cx="802.4" cy="267.4" rx="12.4" ry="6.4" fill="url(#gPk2)"/>
<ellipse cx="779.5" cy="338.8" rx="12.4" ry="6.4" fill="url(#gPk2)"/>
<ellipse cx="841.9" cy="338.8" rx="12.4" ry="6.4" fill="url(#gPk2)"/>
<ellipse cx="800.6" cy="335.0" rx="12.4" ry="6.4" fill="url(#gPk2)"/>
<ellipse cx="819.4" cy="335.0" rx="12.8" ry="6.4" fill="url(#gPk2)"/>
<ellipse cx="758.8" cy="344.4" rx="12.8" ry="6.2" fill="url(#gPk2)"/>
<ellipse cx="863.7" cy="344.4" rx="12.8" ry="6.2" fill="url(#gPk2)"/>
<ellipse cx="775.8" cy="359.7" rx="5.6" ry="4.3" fill="url(#gGb)"/>
<ellipse cx="781.4" cy="354.8" rx="5.6" ry="4.3" fill="url(#gGb)"/>
<ellipse cx="788.9" cy="351.6" rx="5.6" ry="4.3" fill="url(#gGb)"/>
<ellipse cx="796.8" cy="350.1" rx="5.6" ry="4.3" fill="url(#gGb)"/>
<ellipse cx="805.1" cy="349.1" rx="5.6" ry="4.3" fill="url(#gGb)"/>
<ellipse cx="815.6" cy="350.6" rx="5.6" ry="4.3" fill="url(#gGb)"/>
<ellipse cx="824.6" cy="351.2" rx="5.6" ry="4.3" fill="url(#gGb)"/>
<ellipse cx="833.3" cy="352.5" rx="5.6" ry="4.3" fill="url(#gGb)"/>
<ellipse cx="842.7" cy="354.4" rx="5.6" ry="4.3" fill="url(#gGb)"/>
<ellipse cx="849.4" cy="358.5" rx="5.6" ry="4.3" fill="url(#gGb)"/>
<circle cx="812.4" cy="364.2" r="8.6" fill="url(#gBlue)"/>
<circle cx="800.2" cy="363.2" r="9.4" fill="url(#gBlue)"/>
<circle cx="825.0" cy="363.2" r="9.4" fill="url(#gBlue)"/>
<circle cx="813.3" cy="389.5" r="7.9" fill="url(#gBlue)"/>
<circle cx="804.9" cy="380.2" r="9.4" fill="url(#gBlue)"/>
<circle cx="822.0" cy="380.2" r="9.4" fill="url(#gBlue)"/>
</g>
<path d="M741,204.5C760,204 778,207 793,216" class="rna" stroke-width="3.5" stroke-linecap="butt"/>
<circle cx="735.7" cy="204.5" r="6.0" fill="url(#gPink)"/>
<g filter="url(#soft)">
<circle cx="799.2" cy="221.3" r="9.4" fill="url(#gBlue)"/>
</g>
<path d="M714.5,230.5L728.5,216.5" stroke="#555" stroke-width="1" fill="none"/>
<path d="M733,212L729.5,220.5L724,215Z" fill="#555"/>
<text x="730.5" y="192.5" class="s">triphosphate</text>
<text x="722" y="205" class="i">5'</text>
<text x="669.5" y="240" class="s">pyrophosphatase</text>
<text x="766" y="415.5" class="b">RNA degradosome</text>
<defs>
<linearGradient id="rFun" x1="0" x2="1" y1="0" y2="0"><stop offset="0" stop-color="#bcbcfa"/><stop offset=".2" stop-color="#c4c2ee"/><stop offset=".4" stop-color="#c2b8d2"/><stop offset=".6" stop-color="#bcaec0"/><stop offset="1" stop-color="#b4a4b4"/></linearGradient>
<radialGradient id="rRed" cx="45%" cy="35%" r="70%"><stop offset="0" stop-color="#eca8ac"/><stop offset=".6" stop-color="#dc848c"/><stop offset="1" stop-color="#c86874"/></radialGradient>
<linearGradient id="rEno" x1="0" x2="1" y1="0" y2="0"><stop offset="0" stop-color="#a0c080"/><stop offset=".4" stop-color="#c4dca8"/><stop offset="1" stop-color="#9cbc7c"/></linearGradient>
</defs>
<text x="721.5" y="465.5" class="s">RNase E (Escherichia coli)</text>
<text x="786.5" y="483.5" class="s">C-terminal domain</text>
<text x="648.5" y="493.5" class="s">Catalytic domain</text>
<text x="743.5" y="493.5" class="s">Degradosome component interaction</text>
<path d="M651.5,507V498.5H734.5V507" class="ln"/>
<path d="M739.5,507V498.5H932.5V507" class="ln"/>
<g filter="url(#soft)">
<path d="M649.5,530C649.5,516 653,509.5 663,509.5C677,509.5 690,520 706,526C722,531 740,532 760,534C800,538 850,541 905,542L905,550C850,550 800,553 760,556C740,558 722,560 706,566C690,572 677,584 664,584C653,584 649.5,577 649.5,563Z" fill="url(#rFun)"/>
<ellipse cx="751.3" cy="545" rx="13.5" ry="23.3" fill="url(#rRed)" opacity=".92"/>
<rect x="805" y="529" width="20" height="35.5" rx="8" ry="8" fill="url(#rEno)" opacity=".82"/>
<circle cx="920.0" cy="546.5" r="11.7" fill="url(#gPNP)" opacity=".72"/>
<circle cx="905.0" cy="556.3" r="12.5" fill="url(#gPNP)" opacity=".72"/>
<circle cx="905.0" cy="535.5" r="12.9" fill="url(#gPNP)" opacity=".72"/>
</g>
<text x="711.5" y="545.5" class="s">RNA helicase</text>
<text x="731.5" y="556.5" class="s">(Rhlb)</text>
<text x="796" y="550.5" class="s">Enolase</text>
<text x="893" y="548.5" class="s">PNPase</text>
<path d="M698.5,571V577.5H734.5V571" class="ln"/>
<path d="M773.5,571V577.5H798.5V571" class="ln"/>
<text x="684.5" y="591.5" class="s">RNA-binding</text>
<text x="684.5" y="602" class="s">domain</text>
<text x="772.5" y="591.5" class="s">AR 2</text>
<text x="767" y="602" class="s">(arginine-rich region)</text>
<text x="46.5" y="510.5" class="b">5 '</text>
<text x="56.8" y="509.8" class="b" style="font-size:17px">→</text>
<text x="74.7" y="510.5" class="b" textLength="42">3' decay</text>
<path d="M145.0,545.0C145.6,544.6 145.7,544.0 148.3,542.8C150.9,541.6 155.2,538.8 160.7,537.6C166.2,536.4 175.2,535.6 181.4,535.5C187.6,535.4 193.2,536.0 198.0,537.0C202.8,538.0 206.3,539.7 210.4,541.7C214.5,543.7 218.7,546.6 222.8,549.0C226.9,551.4 231.0,553.9 235.2,556.2C239.3,558.6 243.9,561.4 247.7,563.1C251.5,564.8 254.6,565.9 258.0,566.6C261.4,567.4 263.9,567.5 268.4,567.6C272.9,567.7 280.1,567.8 284.9,567.2C289.7,566.6 293.9,565.0 297.3,563.9C300.8,562.8 303.7,561.4 305.6,560.4C307.6,559.4 308.4,558.4 309.0,558.0" class="rna"/>
<ellipse cx="137.7" cy="551.4" rx="17.3" ry="9.4" fill="url(#gTeal)" filter="url(#soft)"/>
<circle cx="109.7" cy="559.5" r="7.6" fill="url(#gPink)"/>
<circle cx="318.0" cy="539.1" r="6.7" fill="url(#gYG)"/>
<circle cx="327.4" cy="542.4" r="6.7" fill="url(#gYG)"/>
<circle cx="330.7" cy="551.8" r="6.7" fill="url(#gYG)"/>
<circle cx="325.4" cy="560.2" r="6.7" fill="url(#gYG)"/>
<circle cx="315.5" cy="561.4" r="6.7" fill="url(#gYG)"/>
<circle cx="308.5" cy="554.3" r="6.7" fill="url(#gYG)"/>
<circle cx="309.6" cy="544.4" r="6.7" fill="url(#gYG)"/>
<path d="M315.6,553L323.2,546" class="rna" stroke-width="3.5" stroke-linecap="butt"/>
<path d="M109.5,590V577" stroke="#555" stroke-width="1" fill="none" shape-rendering="crispEdges"/>
<path d="M109.5,569.5L113.5,578H105.5Z" fill="#555"/>
<text x="173" y="528.5" class="s">RNA</text>
<text x="113" y="544" class="i">5'</text>
<text x="75" y="565.5" class="s">m7G</text>
<text x="123" y="570.5" class="s">exonuclease</text>
<text x="71" y="601.5" class="s">Decapping complex</text>
<text x="291" y="581.5" class="s">Lsm complex</text>
<text x="44.5" y="648.5" class="s">3 '</text>
<text x="54.3" y="648.3" style="font-size:15px">→</text>
<text x="68" y="648.5" class="i">5'</text>
<text x="78.5" y="648.5" class="s">decay</text>
<text x="52" y="682" class="s">Eukaryotic core exosome</text>
<rect x="189" y="675" width="47" height="18" fill="#00ff00"/>
<rect x="189.5" y="675.5" width="46" height="17" class="bx"/>
<text x="212.5" y="688.6" class="k" textLength="42.4" lengthAdjust="spacingAndGlyphs">K03681</text>
<rect x="51" y="692" width="47" height="18" fill="#00ff00"/>
<rect x="51.5" y="692.5" width="46" height="17" class="bx"/>
<text x="74.5" y="705.6" class="k" textLength="42.4" lengthAdjust="spacingAndGlyphs">K12587</text>
<rect x="97" y="692" width="23" height="18" fill="#5fdf5f"/>
<rect x="120" y="692" width="24" height="18" fill="#00ff00"/>
<rect x="97.5" y="692.5" width="46" height="17" class="bx"/>
<text x="120.5" y="705.6" class="k" textLength="42.4" lengthAdjust="spacingAndGlyphs">K12586</text>
<rect x="143" y="692" width="47" height="18" fill="#00ff00"/>
<rect x="143.5" y="692.5" width="46" height="17" class="bx"/>
<text x="166.5" y="705.6" class="k" textLength="42.4" lengthAdjust="spacingAndGlyphs">K03678</text>
<rect x="189" y="692" width="23" height="18" fill="#df5f5f"/>
<rect x="212" y="692" width="24" height="18" fill="#00ff00"/>
<rect x="189.5" y="692.5" width="46" height="17" class="bx"/>
<text x="212.5" y="705.6" class="k" textLength="42.4" lengthAdjust="spacingAndGlyphs">K12590</text>
<text x="250.5" y="670.5" class="s">Shared by Archaea</text>
<rect x="250" y="675" width="47" height="18" fill="#ffffff"/>
<rect x="250.5" y="675.5" width="46" height="17" class="bx"/>
<text x="273.5" y="688.6" class="k" textLength="42.4" lengthAdjust="spacingAndGlyphs">K03679</text>
<rect x="296" y="675" width="47" height="18" fill="#00ff00"/>
<rect x="296.5" y="675.5" width="46" height="17" class="bx"/>
<text x="319.5" y="688.6" class="k" textLength="42.4" lengthAdjust="spacingAndGlyphs">K07573</text>
<rect x="250" y="692" width="47" height="18" fill="#00ff00"/>
<rect x="250.5" y="692.5" width="46" height="17" class="bx"/>
<text x="273.5" y="705.6" class="k" textLength="42.4" lengthAdjust="spacingAndGlyphs">K11600</text>
<rect x="296" y="692" width="47" height="18" fill="#00ff00"/>
<rect x="296.5" y="692.5" width="46" height="17" class="bx"/>
<text x="319.5" y="705.6" class="k" textLength="42.4" lengthAdjust="spacingAndGlyphs">K12589</text>
<text x="51" y="740.5" class="s">Exosome associated factors</text>
<text x="52" y="758.5" class="s">Nuclear exosome cofactors</text>
<text x="246.5" y="760" class="s">Cytoplasmic exosome cofactor</text>
<rect x="51" y="764" width="47" height="18" fill="#00ff00"/>
<rect x="51.5" y="764.5" width="46" height="17" class="bx"/>
<text x="74.5" y="777.6" class="k" textLength="42.4" lengthAdjust="spacingAndGlyphs">K12585</text>
<rect x="101" y="764" width="47" height="18" fill="#00ff00"/>
<rect x="101.5" y="764.5" width="46" height="17" class="bx"/>
<text x="124.5" y="777.6" class="k" textLength="42.4" lengthAdjust="spacingAndGlyphs">K12591</text>
<rect x="151" y="764" width="47" height="18" fill="#00ff00"/>
<rect x="151.5" y="764.5" width="46" height="17" class="bx"/>
<text x="174.5" y="777.6" class="k" textLength="42.4" lengthAdjust="spacingAndGlyphs">K12592</text>
<rect x="200" y="764" width="47" height="18" fill="#00ff00"/>
<rect x="200.5" y="764.5" width="46" height="17" class="bx"/>
<text x="223.5" y="777.6" class="k" textLength="42.4" lengthAdjust="spacingAndGlyphs">K12593</text>
<rect x="257" y="764" width="47" height="18" fill="#00ff00"/>
<rect x="257.5" y="764.5" width="46" height="17" class="bx"/>
<text x="280.5" y="777.6" class="k" textLength="42.4" lengthAdjust="spacingAndGlyphs">K18681</text>
<rect x="313" y="764" width="47" height="18" fill="#ffffff"/>
<rect x="313.5" y="764.5" width="46" height="17" class="bx"/>
<text x="336.5" y="777.6" class="k" textLength="42.4" lengthAdjust="spacingAndGlyphs">K12595</text>
<text x="50" y="812.5" class="s">Exosome coactivator complexes</text>
<text x="50" y="830" class="s">TRAMP complex</text>
<text x="201.5" y="828" class="s">Ski complex</text>
<rect x="50" y="834" width="47" height="18" fill="#00ff00"/>
<rect x="50.5" y="834.5" width="46" height="17" class="bx"/>
<text x="73.5" y="847.6" class="k" textLength="42.4" lengthAdjust="spacingAndGlyphs">K03514</text>
<rect x="96" y="834" width="47" height="18" fill="#ffffff"/>
<rect x="96.5" y="834.5" width="46" height="17" class="bx"/>
<text x="119.5" y="847.6" class="k" textLength="42.4" lengthAdjust="spacingAndGlyphs">K12597</text>
<rect x="142" y="834" width="47" height="18" fill="#00ff00"/>
<rect x="142.5" y="834.5" width="46" height="17" class="bx"/>
<text x="165.5" y="847.6" class="k" textLength="42.4" lengthAdjust="spacingAndGlyphs">K12598</text>
<rect x="204" y="834" width="47" height="18" fill="#00ff00"/>
<rect x="204.5" y="834.5" width="46" height="17" class="bx"/>
<text x="227.5" y="847.6" class="k" textLength="42.4" lengthAdjust="spacingAndGlyphs">K12599</text>
<rect x="250" y="834" width="47" height="18" fill="#00ff00"/>
<rect x="250.5" y="834.5" width="46" height="17" class="bx"/>
<text x="273.5" y="847.6" class="k" textLength="42.4" lengthAdjust="spacingAndGlyphs">K12600</text>
<rect x="296" y="834" width="23" height="18" fill="#bebebe"/>
<rect x="319" y="834" width="24" height="18" fill="#00ff00"/>
<rect x="296.5" y="834.5" width="46" height="17" class="bx"/>
<text x="319.5" y="847.6" class="k" textLength="42.4" lengthAdjust="spacingAndGlyphs">K12601</text>
<text x="48.5" y="873.5" class="s">Scavenger decapping</text>
<rect x="50" y="878" width="47" height="18" fill="#ffffff"/>
<rect x="50.5" y="878.5" width="46" height="17" class="bx"/>
<text x="73.5" y="891.6" class="k" textLength="42.4" lengthAdjust="spacingAndGlyphs">K12584</text>
<text x="50" y="923.5" class="s">Cytoplasmic deadenylation</text>
<text x="50" y="941.5" class="s">Ccr4-NOT complex</text>
<rect x="51" y="945" width="23" height="18" fill="#ff0000"/>
<rect x="74" y="945" width="24" height="18" fill="#00ff00"/>
<rect x="51.5" y="945.5" width="46" height="17" class="bx"/>
<text x="74.5" y="958.6" class="k" textLength="42.4" lengthAdjust="spacingAndGlyphs">K12603</text>
<rect x="97" y="945" width="23" height="18" fill="#30ef30"/>
<rect x="120" y="945" width="24" height="18" fill="#00ff00"/>
<rect x="97.5" y="945.5" width="46" height="17" class="bx"/>
<text x="120.5" y="958.6" class="k" textLength="42.4" lengthAdjust="spacingAndGlyphs">K12604</text>
<rect x="143" y="945" width="47" height="18" fill="#ffffff"/>
<rect x="143.5" y="945.5" width="46" height="17" class="bx"/>
<text x="166.5" y="958.6" class="k" textLength="42.4" lengthAdjust="spacingAndGlyphs">K12605</text>
<rect x="189" y="945" width="47" height="18" fill="#00ff00"/>
<rect x="189.5" y="945.5" width="46" height="17" class="bx"/>
<text x="212.5" y="958.6" class="k" textLength="42.4" lengthAdjust="spacingAndGlyphs">K12580</text>
<rect x="235" y="945" width="47" height="18" fill="#00ff00"/>
<rect x="235.5" y="945.5" width="46" height="17" class="bx"/>
<text x="258.5" y="958.6" class="k" textLength="42.4" lengthAdjust="spacingAndGlyphs">K10643</text>
<rect x="51" y="962" width="47" height="18" fill="#00ff00"/>
<rect x="51.5" y="962.5" width="46" height="17" class="bx"/>
<text x="74.5" y="975.6" class="k" textLength="42.4" lengthAdjust="spacingAndGlyphs">K12581</text>
<rect x="97" y="962" width="47" height="18" fill="#00ff00"/>
<rect x="97.5" y="962.5" width="46" height="17" class="bx"/>
<text x="120.5" y="975.6" class="k" textLength="42.4" lengthAdjust="spacingAndGlyphs">K12606</text>
<rect x="143" y="962" width="47" height="18" fill="#00ff00"/>
<rect x="143.5" y="962.5" width="46" height="17" class="bx"/>
<text x="166.5" y="975.6" class="k" textLength="42.4" lengthAdjust="spacingAndGlyphs">K12607</text>
<rect x="189" y="962" width="23" height="18" fill="#00ff00"/>
<rect x="212" y="962" width="24" height="18" fill="#5fdf5f"/>
<rect x="189.5" y="962.5" width="46" height="17" class="bx"/>
<text x="212.5" y="975.6" class="k" textLength="42.4" lengthAdjust="spacingAndGlyphs">K12608</text>
<rect x="235" y="962" width="47" height="18" fill="#ffffff"/>
<rect x="235.5" y="962.5" width="46" height="17" class="bx"/>
<text x="258.5" y="975.6" class="k" textLength="42.4" lengthAdjust="spacingAndGlyphs">K12609</text>
<rect x="294" y="920" width="47" height="18" fill="#00ff00"/>
<rect x="294.5" y="920.5" width="46" height="17" class="bx"/>
<text x="317.5" y="933.6" class="k" textLength="42.4" lengthAdjust="spacingAndGlyphs">K14442</text>
<rect x="294" y="944" width="23" height="18" fill="#00ff00"/>
<rect x="317" y="944" width="24" height="18" fill="#df5f5f"/>
<rect x="294.5" y="944.5" width="46" height="17" class="bx"/>
<text x="317.5" y="957.6" class="k" textLength="42.4" lengthAdjust="spacingAndGlyphs">K01148</text>
<path d="M74.5,980V989" class="ln"/>
<rect x="51" y="989" width="47" height="18" fill="#ffffff"/>
<rect x="51.5" y="989.5" width="46" height="17" class="bx"/>
<text x="74.5" y="1002.6" class="k" textLength="42.4" lengthAdjust="spacingAndGlyphs">K14443</text>
<rect x="123" y="990" width="47" height="18" fill="#00ff00"/>
<rect x="123.5" y="990.5" width="46" height="17" class="bx"/>
<text x="146.5" y="1003.6" class="k" textLength="42.4" lengthAdjust="spacingAndGlyphs">K13126</text>
<path d="M108,998.5H123" class="ln"/>
<path d="M98.5,998.5L108.5,994.5V1002.5Z" fill="#000"/>
<path d="M145.5,1008V1025" class="ln"/>
<path d="M145.5,1034L141.5,1024.5H149.5Z" fill="#000"/>
<text x="76" y="1031" class="s">Pan complex</text>
<rect x="77" y="1033" width="47" height="18" fill="#00ff00"/>
<rect x="77.5" y="1033.5" width="46" height="17" class="bx"/>
<text x="100.5" y="1046.6" class="k" textLength="42.4" lengthAdjust="spacingAndGlyphs">K12571</text>
<rect x="123" y="1033" width="47" height="18" fill="#00ff00"/>
<rect x="123.5" y="1033.5" width="46" height="17" class="bx"/>
<text x="146.5" y="1046.6" class="k" textLength="42.4" lengthAdjust="spacingAndGlyphs">K12572</text>
<rect x="196.5" y="1006.5" width="107" height="35" rx="11" ry="11" fill="#fff" stroke="#000" stroke-width="1"/>
<text x="201" y="1024" class="s">mRNA surveillance</text>
<text x="228.5" y="1035" class="s">pathway</text>
<text x="15" y="1074.5" class="s">03018 6/10/21</text>
<text x="15" y="1085.5" class="s">(c) Kanehisa Laboratories</text>
<text x="423.5" y="646.5" class="i">5 '</text>
<text x="433.3" y="646.3" style="font-size:15px">→</text>
<text x="447" y="646.5" class="s">3' decay</text>
<text x="428" y="670" class="s">Decapping complex</text>
<rect x="430" y="674" width="47" height="18" fill="#00ff00"/>
<rect x="430.5" y="674.5" width="46" height="17" class="bx"/>
<text x="453.5" y="687.6" class="k" textLength="42.4" lengthAdjust="spacingAndGlyphs">K12610</text>
<rect x="476" y="674" width="23" height="18" fill="#8fce8f"/>
<rect x="499" y="674" width="24" height="18" fill="#00ff00"/>
<rect x="476.5" y="674.5" width="46" height="17" class="bx"/>
<text x="499.5" y="687.6" class="k" textLength="42.4" lengthAdjust="spacingAndGlyphs">K12614</text>
<rect x="522" y="674" width="47" height="18" fill="#00ff00"/>
<rect x="522.5" y="674.5" width="46" height="17" class="bx"/>
<text x="545.5" y="687.6" class="k" textLength="42.4" lengthAdjust="spacingAndGlyphs">K12617</text>
<rect x="430" y="691" width="23" height="18" fill="#5fdf5f"/>
<rect x="453" y="691" width="24" height="18" fill="#00ff00"/>
<rect x="430.5" y="691.5" width="46" height="17" class="bx"/>
<text x="453.5" y="704.6" class="k" textLength="42.4" lengthAdjust="spacingAndGlyphs">K12613</text>
<rect x="476" y="691" width="47" height="18" fill="#ffffff"/>
<rect x="476.5" y="691.5" width="46" height="17" class="bx"/>
<text x="499.5" y="704.6" class="k" textLength="42.4" lengthAdjust="spacingAndGlyphs">K12615</text>
<rect x="476" y="708" width="47" height="18" fill="#00ff00"/>
<rect x="476.5" y="708.5" width="46" height="17" class="bx"/>
<text x="499.5" y="721.6" class="k" textLength="42.4" lengthAdjust="spacingAndGlyphs">K12616</text>
<text x="430" y="760" class="i">5'</text>
<text x="440.5" y="760" class="s">exonuclease</text>
<rect x="430" y="763" width="47" height="18" fill="#00ff00"/>
<rect x="430.5" y="763.5" width="46" height="17" class="bx"/>
<text x="453.5" y="776.6" class="k" textLength="42.4" lengthAdjust="spacingAndGlyphs">K12618</text>
<rect x="485" y="763" width="47" height="18" fill="#00ff00"/>
<rect x="485.5" y="763.5" width="46" height="17" class="bx"/>
<text x="508.5" y="776.6" class="k" textLength="42.4" lengthAdjust="spacingAndGlyphs">K12619</text>
<rect x="459" y="787" width="47" height="18" fill="#ffffff"/>
<rect x="459.5" y="787.5" width="46" height="17" class="bx"/>
<text x="482.5" y="800.6" class="k" textLength="42.4" lengthAdjust="spacingAndGlyphs">K16855</text>
<text x="432" y="856" class="s">Lsm complex</text>
<rect x="523" y="848" width="23" height="18" fill="#bebebe"/>
<rect x="546" y="848" width="24" height="18" fill="#00ff00"/>
<rect x="523.5" y="848.5" width="46" height="17" class="bx"/>
<text x="546.5" y="861.6" class="k" textLength="42.4" lengthAdjust="spacingAndGlyphs">K12620</text>
<rect x="431" y="865" width="47" height="18" fill="#ffffff"/>
<rect x="431.5" y="865.5" width="46" height="17" class="bx"/>
<text x="454.5" y="878.6" class="k" textLength="42.4" lengthAdjust="spacingAndGlyphs">K12621</text>
<rect x="477" y="865" width="47" height="18" fill="#ffffff"/>
<rect x="477.5" y="865.5" width="46" height="17" class="bx"/>
<text x="500.5" y="878.6" class="k" textLength="42.4" lengthAdjust="spacingAndGlyphs">K12622</text>
<rect x="523" y="865" width="47" height="18" fill="#00ff00"/>
<rect x="523.5" y="865.5" width="46" height="17" class="bx"/>
<text x="546.5" y="878.6" class="k" textLength="42.4" lengthAdjust="spacingAndGlyphs">K12623</text>
<rect x="431" y="882" width="47" height="18" fill="#ffffff"/>
<rect x="431.5" y="882.5" width="46" height="17" class="bx"/>
<text x="454.5" y="895.6" class="k" textLength="42.4" lengthAdjust="spacingAndGlyphs">K12624</text>
<rect x="477" y="882" width="47" height="18" fill="#ffffff"/>
<rect x="477.5" y="882.5" width="46" height="17" class="bx"/>
<text x="500.5" y="895.6" class="k" textLength="42.4" lengthAdjust="spacingAndGlyphs">K12625</text>
<rect x="523" y="882" width="47" height="18" fill="#00ff00"/>
<rect x="523.5" y="882.5" width="46" height="17" class="bx"/>
<text x="546.5" y="895.6" class="k" textLength="42.4" lengthAdjust="spacingAndGlyphs">K12626</text>
<rect x="523" y="899" width="23" height="18" fill="#00ff00"/>
<rect x="546" y="899" width="24" height="18" fill="#5fdf5f"/>
<rect x="523.5" y="899.5" width="46" height="17" class="bx"/>
<text x="546.5" y="912.6" class="k" textLength="42.4" lengthAdjust="spacingAndGlyphs">K12627</text>
<text x="575.5" y="864.5" class="s">Cytoplasmic</text>
<text x="575.5" y="876" class="s">Lsm 1-7 complex</text>
<text x="575.5" y="898" class="s">Nuclear</text>
<text x="575.5" y="909.5" class="s">Lsm 2-8 complex</text>
<text x="709" y="670" class="s">RNA degradosome type A (Escherichia coli)</text>
<rect x="709" y="675" width="47" height="18" fill="#00ff00"/>
<rect x="709.5" y="675.5" width="46" height="17" class="bx"/>
<text x="732.5" y="688.6" class="k" textLength="42.4" lengthAdjust="spacingAndGlyphs">K08300</text>
<rect x="755" y="675" width="47" height="18" fill="#ffffff"/>
<rect x="755.5" y="675.5" width="46" height="17" class="bx"/>
<text x="778.5" y="688.6" class="k" textLength="42.4" lengthAdjust="spacingAndGlyphs">K03732</text>
<rect x="801" y="675" width="23" height="18" fill="#bebebe"/>
<rect x="824" y="675" width="23" height="18" fill="#00ff00"/>
<path d="M801,675.5H846.5V692.5H801" class="bx"/>
<text x="823.3" y="688.6" class="k" textLength="42.4" lengthAdjust="spacingAndGlyphs">K01689</text>
<rect x="846" y="675" width="47" height="18" fill="#00ff00"/>
<rect x="846.5" y="675.5" width="46" height="17" class="bx"/>
<text x="869.5" y="688.6" class="k" textLength="42.4" lengthAdjust="spacingAndGlyphs">K00962</text>
<text x="709" y="720" class="s">RNA degradosome type B (Pseudomonas)</text>
<rect x="709" y="725" width="47" height="18" fill="#00ff00"/>
<rect x="709.5" y="725.5" width="46" height="17" class="bx"/>
<text x="732.5" y="738.6" class="k" textLength="42.4" lengthAdjust="spacingAndGlyphs">K08300</text>
<rect x="755" y="725" width="47" height="18" fill="#00ff00"/>
<rect x="755.5" y="725.5" width="46" height="17" class="bx"/>
<text x="778.5" y="738.6" class="k" textLength="42.4" lengthAdjust="spacingAndGlyphs">K11927</text>
<rect x="801" y="725" width="46" height="18" fill="#ffffff"/>
<path d="M801,725.5H846.5V742.5H801" class="bx"/>
<text x="823.3" y="738.6" class="k" textLength="42.4" lengthAdjust="spacingAndGlyphs">K12573</text>
<text x="709" y="770" class="s">RNA degradosome type C (Rhodobacter)</text>
<rect x="709" y="775" width="47" height="18" fill="#00ff00"/>
<rect x="709.5" y="775.5" width="46" height="17" class="bx"/>
<text x="732.5" y="788.6" class="k" textLength="42.4" lengthAdjust="spacingAndGlyphs">K08300</text>
<rect x="755" y="775" width="47" height="18" fill="#00ff00"/>
<rect x="755.5" y="775.5" width="46" height="17" class="bx"/>
<text x="778.5" y="788.6" class="k" textLength="42.4" lengthAdjust="spacingAndGlyphs">K05592</text>
<rect x="801" y="775" width="47" height="18" fill="#00ff00"/>
<rect x="801.5" y="775.5" width="46" height="17" class="bx"/>
<text x="824.5" y="788.6" class="k" textLength="42.4" lengthAdjust="spacingAndGlyphs">K03628</text>
<text x="709" y="820" class="s">RNA degradosome type D (Bacillus subtilis)</text>
<rect x="709" y="824" width="47" height="18" fill="#ffffff"/>
<rect x="709.5" y="824.5" width="46" height="17" class="bx"/>
<text x="732.5" y="837.6" class="k" textLength="42.4" lengthAdjust="spacingAndGlyphs">K18682</text>
<rect x="755" y="824" width="47" height="18" fill="#ffffff"/>
<rect x="755.5" y="824.5" width="46" height="17" class="bx"/>
<text x="778.5" y="837.6" class="k" textLength="42.4" lengthAdjust="spacingAndGlyphs">K05592</text>
<rect x="801" y="824" width="47" height="18" fill="#ffffff"/>
<rect x="801.5" y="824.5" width="46" height="17" class="bx"/>
<text x="824.5" y="837.6" class="k" textLength="42.4" lengthAdjust="spacingAndGlyphs">K12574</text>
<rect x="847" y="824" width="23" height="18" fill="#bebebe"/>
<rect x="870" y="824" width="24" height="18" fill="#00ff00"/>
<path d="M847,824.5H893.5V841.5H847" class="bx"/>
<text x="869.8" y="837.6" class="k" textLength="42.4" lengthAdjust="spacingAndGlyphs">K01689</text>
<rect x="893" y="824" width="47" height="18" fill="#00ff00"/>
<rect x="893.5" y="824.5" width="46" height="17" class="bx"/>
<text x="916.5" y="837.6" class="k" textLength="42.4" lengthAdjust="spacingAndGlyphs">K00962</text>
<rect x="893" y="841" width="23" height="18" fill="#5fdf5f"/>
<rect x="916" y="841" width="24" height="18" fill="#00ff00"/>
<rect x="893.5" y="841.5" width="46" height="17" class="bx"/>
<text x="916.5" y="854.6" class="k" textLength="42.4" lengthAdjust="spacingAndGlyphs">K00850</text>
<text x="709" y="886" class="s">Associated proteins</text>
<rect x="709" y="891" width="47" height="18" fill="#00ff00"/>
<rect x="709.5" y="891.5" width="46" height="17" class="bx"/>
<text x="732.5" y="904.6" class="k" textLength="42.4" lengthAdjust="spacingAndGlyphs">K04043</text>
<rect x="761" y="891" width="47" height="18" fill="#00ff00"/>
<rect x="761.5" y="891.5" width="46" height="17" class="bx"/>
<text x="784.5" y="904.6" class="k" textLength="42.4" lengthAdjust="spacingAndGlyphs">K04077</text>
<rect x="811" y="891" width="47" height="18" fill="#ffffff"/>
<rect x="811.5" y="891.5" width="46" height="17" class="bx"/>
<text x="834.5" y="904.6" class="k" textLength="42.4" lengthAdjust="spacingAndGlyphs">K03666</text>
<rect x="709" y="913" width="47" height="18" fill="#ffffff"/>
<rect x="709.5" y="913.5" width="46" height="17" class="bx"/>
<text x="732.5" y="926.6" class="k" textLength="42.4" lengthAdjust="spacingAndGlyphs">K00937</text>
<rect x="761" y="913" width="47" height="18" fill="#ffffff"/>
<rect x="761.5" y="913.5" width="46" height="17" class="bx"/>
<text x="784.5" y="926.6" class="k" textLength="42.4" lengthAdjust="spacingAndGlyphs">K00970</text>
<text x="709" y="967.5" class="s">Pyrophosphatase</text>
<rect x="709" y="974" width="47" height="18" fill="#ffffff"/>
<rect x="709.5" y="974.5" width="46" height="17" class="bx"/>
<text x="732.5" y="987.6" class="k" textLength="42.4" lengthAdjust="spacingAndGlyphs">K08311</text>
</svg>
</body>
</html>
